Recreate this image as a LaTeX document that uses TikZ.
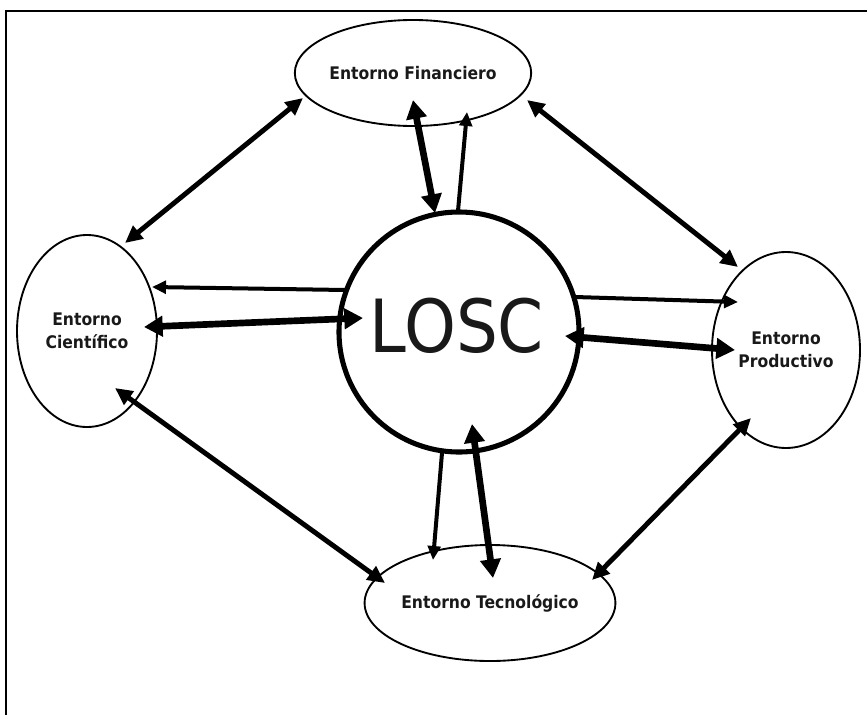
\documentclass[tikz,border=0pt]{standalone}
\usepackage{fontspec}
\setmainfont{DejaVu Sans}
\newfontfamily\lblfont{DejaVu Sans Condensed}
\usetikzlibrary{shapes.geometric,arrows.meta}
\begin{document}
\begin{tikzpicture}[x=0.75pt,y=-0.75pt,
  env/.style={ellipse,draw,line width=1.4pt,inner sep=0pt,align=center,
    font=\lblfont\bfseries\fontsize{13}{17.5}\selectfont,text=black!90},
  diag/.style={line width=3.7pt,{Triangle[length=13pt,width=12pt]}-{Triangle[length=13pt,width=12pt]}},
  thinarr/.style={line width=3pt,-{Triangle[length=10.5pt,width=9.5pt]}},
  thickarr/.style={line width=5pt,{Triangle[length=14pt,width=15pt]}-{Triangle[length=14pt,width=15pt]}},
  frame/.style={line width=2pt,line cap=rect}]
\useasboundingbox (0,0) rectangle (867,714);
% frame
\coordinate (fr1) at (6,714);
\coordinate (fr2) at (6,11);
\coordinate (fr3) at (867,11);
\draw[frame] (fr1) -- (fr2) -- (fr3);
% nodes
\node[env,minimum width=165.75pt,minimum height=79.5pt] (fin) at (413,73) {Entorno Financiero};
\node[env,minimum width=105pt,minimum height=144pt] (cie) at (87,331) {Entorno\\Científico};
\node[env,minimum width=111pt,minimum height=147pt] (pro) at (786,350) {Entorno\\Productivo};
\node[env,minimum width=176pt,minimum height=87pt] (tec) at (490,603) {Entorno Tecnológico};
\node[circle,draw,line width=3.8pt,minimum size=180pt,inner sep=0pt] (losc) at (459,332) {};
\node[font=\lblfont\fontsize{55}{60}\selectfont,text=black!90] (losct) at (457,326) {LOSC};
% connector end points
\coordinate (a1s) at (303,98);  \coordinate (a1e) at (125,243);
\coordinate (a2s) at (527,100); \coordinate (a2e) at (738,267);
\coordinate (a3s) at (115,388); \coordinate (a3e) at (385,583);
\coordinate (a4s) at (751,418); \coordinate (a4e) at (592,580);
\coordinate (a5s) at (413,100); \coordinate (a5e) at (435,213);
\coordinate (a6s) at (458,211); \coordinate (a6e) at (467,112);
\coordinate (a7s) at (345,290); \coordinate (a7e) at (152,287);
\coordinate (a8s) at (144,327); \coordinate (a8e) at (363,318);
\coordinate (a9s) at (575,297); \coordinate (a9e) at (738,302);
\coordinate (a10s) at (565,336); \coordinate (a10e) at (735,350);
\coordinate (a11s) at (442,453); \coordinate (a11e) at (433,560);
\coordinate (a12s) at (472,424); \coordinate (a12e) at (493,578);
% connectors
\draw[diag] (a1s) -- (a1e);
\draw[diag] (a2s) -- (a2e);
\draw[diag] (a3s) -- (a3e);
\draw[diag] (a4s) -- (a4e);
\draw[thickarr] (a5s) -- (a5e);
\draw[thinarr] (a6s) -- (a6e);
\draw[thinarr] (a7s) -- (a7e);
\draw[thickarr] (a8s) -- (a8e);
\draw[thinarr] (a9s) -- (a9e);
\draw[thickarr] (a10s) -- (a10e);
\draw[thinarr] (a11s) -- (a11e);
\draw[thickarr] (a12s) -- (a12e);
\end{tikzpicture}
\end{document}
